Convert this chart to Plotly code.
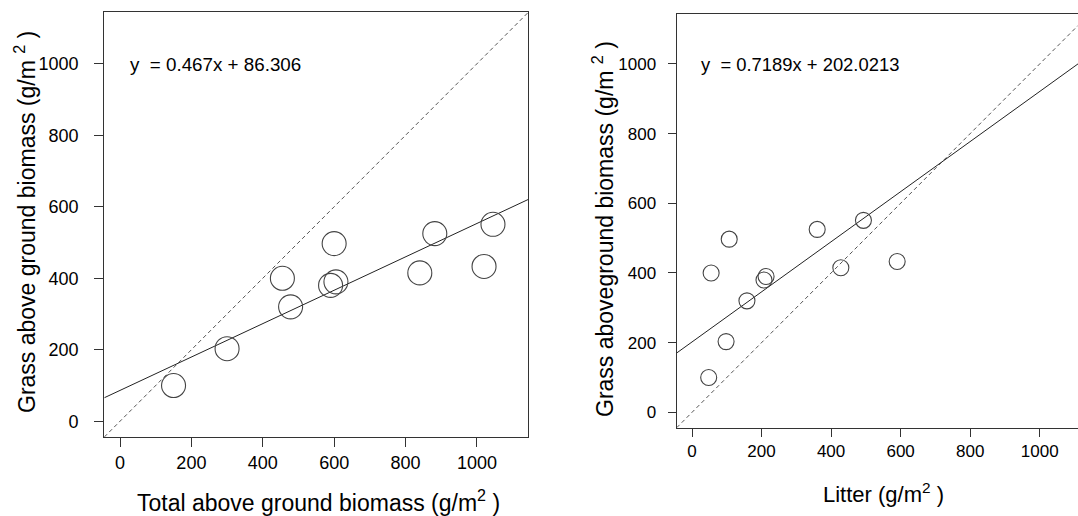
import plotly.graph_objects as go

# Grass aboveground biomass (g/m2), same plots in both panels
grass = [100, 203, 400, 320, 380, 497, 390, 415, 525, 433, 551]
# Total aboveground biomass (g/m2)
total = [150, 300, 455, 478, 590, 600, 605, 840, 882, 1020, 1045]
# Litter (g/m2)
litter = [48, 98, 55, 158, 207, 107, 213, 428, 360, 590, 493]

fit_left = (0.467, 86.306)
fit_right = (0.7189, 202.0213)
eq_left = 'y\u00a0\u00a0= 0.467x + 86.306'
eq_right = 'y\u00a0\u00a0= 0.7189x + 202.0213'

tick_vals = [0, 200, 400, 600, 800, 1000]
range_left_x = [-44, 1144]
range_right_x = [-44, 1110]
range_y = [-44, 1144]

FONT = 'Liberation Sans, Arial, sans-serif'
AX = '#333333'
W, H = 1078, 516

fig = go.Figure()


def add_panel(fig, x, y, fit, xr, xa, ya, msize):
    # 1:1 reference line
    fig.add_trace(go.Scatter(
        x=xr, y=xr, mode='lines', xaxis=xa, yaxis=ya,
        line=dict(color='#555555', width=1, dash='4px,3px'),
        hoverinfo='skip', showlegend=False
    ))
    # regression line
    slope, icpt = fit
    fig.add_trace(go.Scatter(
        x=xr, y=[slope * v + icpt for v in xr], mode='lines', xaxis=xa, yaxis=ya,
        line=dict(color='#222222', width=1),
        hoverinfo='skip', showlegend=False
    ))
    # observations
    fig.add_trace(go.Scatter(
        x=x, y=y, mode='markers', xaxis=xa, yaxis=ya,
        marker=dict(symbol='circle-open', size=msize, color='#444444',
                    line=dict(width=1.1, color='#444444')),
        showlegend=False
    ))


add_panel(fig, total, grass, fit_left, range_left_x, 'x', 'y', 24)
add_panel(fig, litter, grass, fit_right, range_right_x, 'x2', 'y2', 16)

axis_common = dict(
    showgrid=False, zeroline=False, showline=True, linecolor=AX, linewidth=1.3,
    ticks='outside', tickcolor=AX, tickvals=tick_vals,
)

fig.update_layout(
    width=W, height=H,
    margin=dict(l=0, r=0, t=0, b=0),
    paper_bgcolor='white', plot_bgcolor='white',
    font=dict(family=FONT, color='black'),
    xaxis=dict(axis_common, domain=[104.3 / W, 528.3 / W], range=range_left_x, mirror=True,
               ticklen=9, tickfont=dict(size=18), anchor='y'),
    yaxis=dict(axis_common, domain=[1 - 437 / H, 1 - 12.3 / H], range=range_y, mirror=True,
               ticklen=9, tickfont=dict(size=18), ticklabelstandoff=12, anchor='x'),
    xaxis2=dict(axis_common, domain=[676.7 / W, 1.0], range=range_right_x, mirror=True,
                ticklen=8, tickfont=dict(size=17), anchor='y2'),
    yaxis2=dict(axis_common, domain=[1 - 427.7 / H, 1 - 13.7 / H], range=range_y, mirror=False,
                ticklen=8, tickfont=dict(size=17), ticklabelstandoff=8, anchor='x2'),
)

annotations = [
    dict(text='Total above ground biomass (g/m<sup>2</sup> )', x=318, y=501,
         font=dict(size=23)),
    dict(text='Grass above ground biomass (g/m <sup>2</sup> )', x=25, y=222,
         textangle=-90, font=dict(size=23)),
    dict(text='Litter (g/m<sup>2</sup> )', x=883, y=493,
         font=dict(size=22)),
    dict(text='Grass aboveground biomass (g/m <sup>2</sup> )', x=603, y=229,
         textangle=-90, font=dict(size=23)),
    dict(text=eq_left, x=128, y=64, xanchor='left', font=dict(size=18.8)),
    dict(text=eq_right, x=699, y=64, xanchor='left', font=dict(size=18.4)),
]
for a in annotations:
    a.setdefault('xanchor', 'center')
    a['x'] = a['x'] / W
    a['y'] = 1 - a['y'] / H
    fig.add_annotation(xref='paper', yref='paper', showarrow=False, yanchor='middle', **a)

fig.write_html('out.html', config={'displayModeBar': False},
               post_script="document.body.style.margin='0px';")
